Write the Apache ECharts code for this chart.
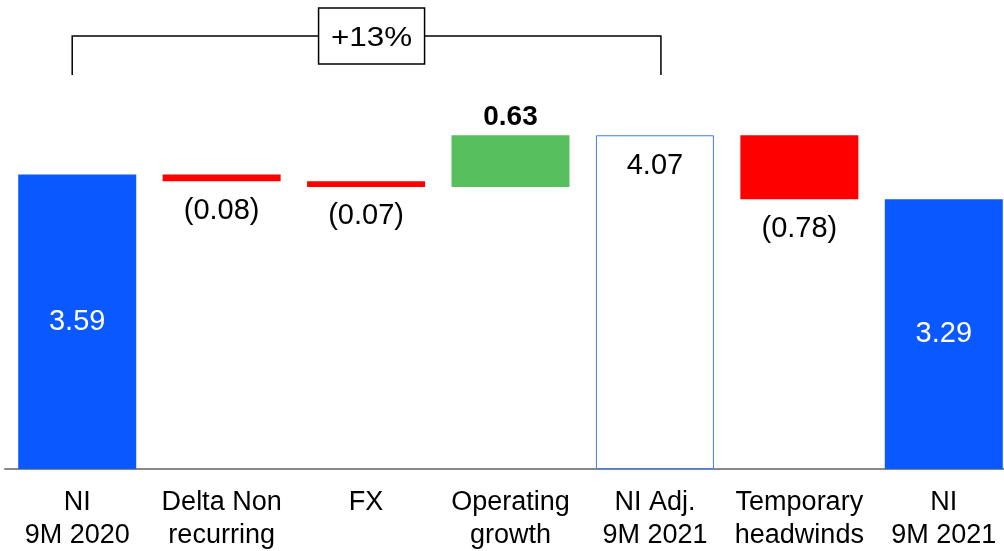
<!DOCTYPE html>
<html>
<head>
<meta charset="utf-8">
<script src="https://cdn.jsdelivr.net/npm/echarts@6/dist/echarts.min.js"></script>
<style>
  html, body { margin: 0; padding: 0; background: #fff; }
  #chart { width: 1004px; height: 551px; }
</style>
</head>
<body>
<div id="chart"></div>
<script>
  // categories and values of the bridge
  var categories = ['NI\n9M 2020', 'Delta Non\nrecurring', 'FX', 'Operating\ngrowth', 'NI Adj.\n9M 2021', 'Temporary\nheadwinds', 'NI\n9M 2021'];
  var values = [3.59, -0.08, -0.07, 0.63, 4.07, -0.78, 3.29];
  var kinds = ['total', 'delta', 'delta', 'delta', 'adj', 'delta', 'total'];
  var growthLabel = '+13%';

  var FONT = '"Liberation Sans", Arial, sans-serif';

  // running totals -> invisible base + visible piece
  var baseData = [];
  var barData = [];
  var running = 0;
  for (var i = 0; i < values.length; i++) {
    var v = values[i];
    var base, h, style, label;
    if (kinds[i] !== 'delta') {
      running = v;
      base = 0; h = v;
    } else {
      var next = running + v;
      base = Math.min(running, next);
      h = Math.abs(v);
      running = next;
    }
    if (kinds[i] === 'total') {
      style = { color: '#0A58FF' };
      label = { show: true, position: 'inside', color: '#fff', fontSize: 29, formatter: v.toFixed(2) };
    } else if (kinds[i] === 'adj') {
      style = { color: '#fff', borderColor: '#3D7DF7', borderWidth: 1 };
      label = { show: true, position: 'insideTop', distance: 16, color: '#000', fontSize: 29, formatter: v.toFixed(2) };
    } else if (v > 0) {
      style = { color: '#57BF5E' };
      label = { show: true, position: 'top', distance: 4, color: '#000', fontSize: 28, fontWeight: 'bold', formatter: v.toFixed(2) };
    } else {
      style = { color: '#FF0000' };
      label = { show: true, position: 'bottom', distance: 15, color: '#000', fontSize: 29, formatter: '(' + Math.abs(v).toFixed(2) + ')' };
    }
    baseData.push(base);
    barData.push({ value: h, itemStyle: style, label: label });
  }

  var chart = echarts.init(document.getElementById('chart'));
  chart.setOption({
    animation: false,
    textStyle: { fontFamily: FONT },
    grid: { left: 5, width: 1011, top: 59, bottom: 82, outerBoundsMode: 'none', containLabel: false },
    xAxis: {
      type: 'category',
      data: categories,
      axisTick: { show: false },
      axisLine: { lineStyle: { color: '#888', width: 2 } },
      axisLabel: { color: '#000', fontSize: 27, lineHeight: 33, margin: 17, interval: 0 }
    },
    yAxis: {
      type: 'value', min: 0, max: 5,
      show: false,
      splitLine: { show: false }
    },
    series: [
      {
        type: 'bar', stack: 'w', data: baseData,
        itemStyle: { color: 'transparent' },
        silent: true, barWidth: 118
      },
      {
        type: 'bar', stack: 'w', data: barData,
        barWidth: 118
      }
    ]
  });

  // "+13%" bracket from first to fifth bar
  var x0 = chart.convertToPixel({ xAxisIndex: 0 }, 0) - 5;
  var x1 = chart.convertToPixel({ xAxisIndex: 0 }, 4) + 6;
  var yLine = 36, yTick = 75;
  var boxW = 106, boxH = 56;
  var mid = (x0 + x1) / 2 + 5;
  chart.setOption({
    graphic: [
      { type: 'polyline', shape: { points: [[x0, yTick], [x0, yLine], [x1, yLine], [x1, yTick]] },
        style: { stroke: '#000', lineWidth: 1.5, fill: null } },
      { type: 'rect', shape: { x: mid - boxW / 2, y: 8, width: boxW, height: boxH },
        style: { fill: '#fff', stroke: '#000', lineWidth: 1.5 } },
      { type: 'text', x: mid, y: 38, scaleX: 1.12,
        style: { text: growthLabel, fontSize: 28, fontFamily: FONT, fill: '#000', align: 'center', verticalAlign: 'middle' } }
    ]
  });
</script>
</body>
</html>
